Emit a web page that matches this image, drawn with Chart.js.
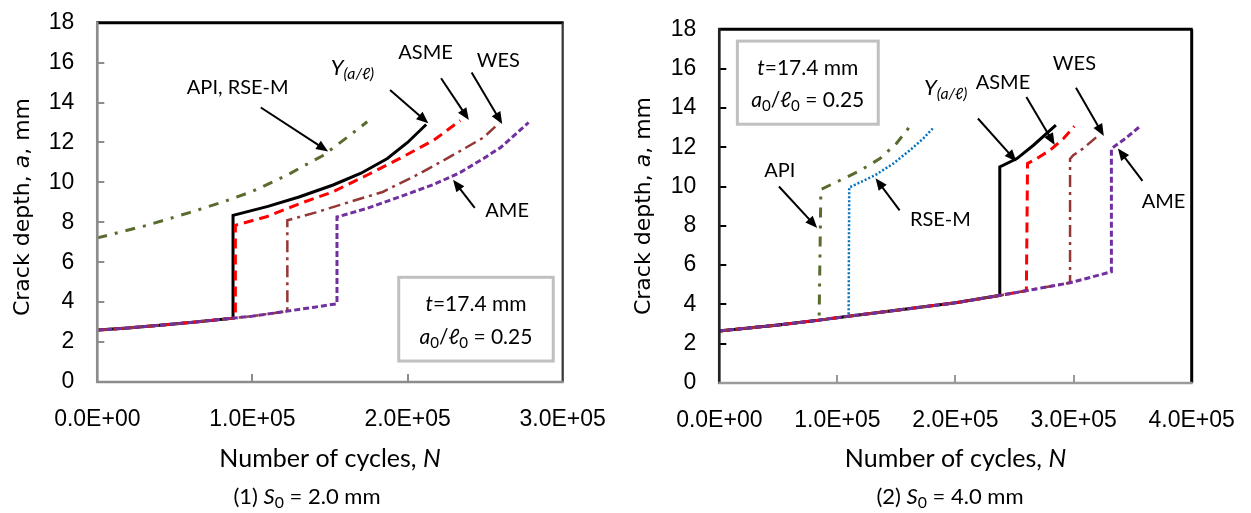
<!DOCTYPE html>
<html><head><meta charset="utf-8">
<script src="https://cdn.jsdelivr.net/npm/chart.js@4.4.1/dist/chart.umd.min.js"></script>
<style>
html,body{margin:0;padding:0;background:#fff;overflow:hidden}
#wrap{position:relative;width:1251px;height:513px;background:#fff}
canvas{position:absolute;top:0}
#c1{left:0}
#c2{left:625px}
</style></head><body>
<div id="wrap"><canvas id="c1" width="625" height="513"></canvas><canvas id="c2" width="626" height="513"></canvas></div>
<script>
// ---------------- DATA: left chart (1) S0 = 2.0 mm ----------------
const xTickValsL = [0, 100000, 200000, 300000];
const xTickLabelsL = ['0.0E+00', '1.0E+05', '2.0E+05', '3.0E+05'];
const yTickVals = [0, 2, 4, 6, 8, 10, 12, 14, 16, 18];
const yTickLabels = ['0', '2', '4', '6', '8', '10', '12', '14', '16', '18'];

const L_Y_N = [0, 20000, 40000, 60000, 87500, 87500, 100000, 110000, 130000, 152000, 170000, 187000, 200000, 212000];
const L_Y_A = [2.6, 2.71, 2.84, 2.98, 3.2, 8.35, 8.6, 8.8, 9.27, 9.87, 10.46, 11.2, 12.0, 12.9];
const L_ASME_N = [0, 20000, 40000, 60000, 89000, 89000, 109000, 131000, 152000, 174000, 195000, 217000, 234000];
const L_ASME_A = [2.6, 2.71, 2.84, 2.98, 3.21, 7.85, 8.28, 8.95, 9.53, 10.37, 11.2, 12.12, 13.1];
const L_WES_N = [0, 20000, 40000, 60000, 87500, 100000, 122500, 122500, 141000, 163000, 184000, 208000, 230000, 249000, 259000];
const L_WES_A = [2.6, 2.71, 2.84, 2.98, 3.2, 3.3, 3.55, 8.1, 8.5, 9.03, 9.52, 10.45, 11.4, 12.25, 12.97];
const L_AME_N = [0, 20000, 40000, 60000, 87500, 100000, 122500, 140000, 154500, 154500, 174000, 195000, 217000, 234000, 249000, 260000, 278000];
const L_AME_A = [2.6, 2.71, 2.84, 2.98, 3.2, 3.3, 3.55, 3.75, 3.92, 8.27, 8.7, 9.28, 9.9, 10.5, 11.2, 11.75, 13.0];
const L_API_N = [0, 32000, 60000, 81000, 100000, 122000, 145500, 161000, 174000];
const L_API_A = [7.22, 7.85, 8.5, 9.02, 9.55, 10.35, 11.35, 12.25, 13.04];

// ---------------- DATA: right chart (2) S0 = 4.0 mm ----------------
const xTickValsR = [0, 100000, 200000, 300000, 400000];
const xTickLabelsR = ['0.0E+00', '1.0E+05', '2.0E+05', '3.0E+05', '4.0E+05'];

const R_API_N = [0, 50000, 84500, 86000, 100000, 119000, 136000, 150000, 161000];
const R_API_A = [2.65, 2.95, 3.2, 9.85, 10.25, 10.8, 11.42, 12.19, 13.03];
const R_RSEM_N = [0, 50000, 84500, 109500, 110000, 131800, 147400, 161500, 172700, 181000];
const R_RSEM_A = [2.65, 2.95, 3.2, 3.4, 9.95, 10.57, 11.17, 11.85, 12.44, 12.97];
const R_Y_N = [0, 50000, 84500, 109500, 150000, 200000, 237000, 237500, 252000, 266000, 285000];
const R_Y_A = [2.65, 2.95, 3.2, 3.4, 3.7, 4.08, 4.45, 11.0, 11.42, 12.1, 13.12];
const R_ASME_N = [0, 50000, 84500, 109500, 150000, 200000, 237000, 260000, 261000, 268800, 280000, 291500, 300600];
const R_ASME_A = [2.65, 2.95, 3.2, 3.4, 3.7, 4.08, 4.45, 4.7, 11.17, 11.42, 11.85, 12.44, 13.07];
const R_WES_N = [0, 50000, 84500, 109500, 150000, 200000, 237000, 260000, 297000, 297000, 299700, 308000, 321000];
const R_WES_A = [2.65, 2.95, 3.2, 3.4, 3.7, 4.08, 4.45, 4.7, 5.1, 11.4, 11.59, 11.93, 12.6];
const R_AME_N = [0, 50000, 84500, 109500, 150000, 200000, 237000, 260000, 297000, 332000, 332000, 344000, 355600];
const R_AME_A = [2.65, 2.95, 3.2, 3.4, 3.7, 4.08, 4.45, 4.7, 5.1, 5.66, 11.93, 12.45, 13.03];

// ---------------- annotation labels / arrows (data coordinates) ----------------
const leftLabels = [
  {runs: [['API, RSE-M']], N: 90500, a: 14.41},
  {runs: [['Y', 'i'], ['(a/ℓ)', 'si']], N: 164500, a: 15.38, size: 22},
  {runs: [['ASME']], N: 211600, a: 16.17},
  {runs: [['WES']], N: 258500, a: 15.8},
  {runs: [['AME']], N: 264200, a: 8.25}
];
const leftArrows = [
  [105400, 13.75, 148800, 11.55],
  [188700, 14.63, 213400, 12.96],
  [221600, 15.22, 239500, 13.13],
  [241300, 15.5, 261000, 12.93],
  [243300, 8.72, 229300, 10.13]
];
const rightLabels = [
  {runs: [['API']], N: 51300, a: 10.49},
  {runs: [['RSE-M']], N: 187200, a: 8.0},
  {runs: [['Y', 'i'], ['(a/ℓ)', 'si']], N: 191600, a: 14.64, size: 22},
  {runs: [['ASME']], N: 240200, a: 14.98},
  {runs: [['WES']], N: 300700, a: 15.91},
  {runs: [['AME']], N: 376100, a: 8.93}
];
const rightArrows = [
  [50500, 10.0, 82900, 7.89],
  [152700, 8.78, 132300, 10.42],
  [219000, 13.46, 251600, 11.27],
  [260000, 14.56, 284000, 12.11],
  [302000, 15.03, 325600, 12.57],
  [358300, 10.29, 337500, 11.94]
];
const insetLines = [
  [['t', 'i'], ['=17.4 mm']],
  [['a', 'i'], ['0', 's'], ['/'], ['ℓ', 'i'], ['0', 's'], [' = 0.25']]
];

// ---------------- helpers ----------------
const FONT = 'Lato, "Open Sans", sans-serif';
const TICKFONT = '"Liberation Sans", Arial, sans-serif';
function pts(N, A) { return N.map((n, i) => ({x: n, y: A[i]})); }

function drawRich(ctx, runs, x, y, size, family, color) {
  ctx.save();
  ctx.fillStyle = color || '#000';
  ctx.textBaseline = 'alphabetic';
  ctx.textAlign = 'left';
  const parts = runs.map(r => {
    const t = r[0], st = r[1] || '';
    const sub = st.includes('s'), it = st.includes('i');
    const sz = sub ? size * 0.72 : size;
    const font = (it ? 'italic ' : '') + sz + 'px ' + family;
    ctx.font = font;
    return {t, font, w: ctx.measureText(t).width, dy: sub ? size * 0.18 : 0};
  });
  const total = parts.reduce((s, p) => s + p.w, 0);
  let cx = x - total / 2;
  for (const p of parts) { ctx.font = p.font; ctx.fillText(p.t, cx, y + p.dy); cx += p.w; }
  ctx.restore();
}

function arrow(ctx, x1, y1, x2, y2) {
  const ang = Math.atan2(y2 - y1, x2 - x1);
  const L = 12, W = 5;
  ctx.save();
  ctx.strokeStyle = '#000'; ctx.fillStyle = '#000'; ctx.lineWidth = 2;
  ctx.beginPath(); ctx.moveTo(x1, y1);
  ctx.lineTo(x2 - Math.cos(ang) * L * 0.8, y2 - Math.sin(ang) * L * 0.8); ctx.stroke();
  ctx.beginPath();
  ctx.moveTo(x2, y2);
  ctx.lineTo(x2 - Math.cos(ang) * L + Math.sin(ang) * W, y2 - Math.sin(ang) * L - Math.cos(ang) * W);
  ctx.lineTo(x2 - Math.cos(ang) * L - Math.sin(ang) * W, y2 - Math.sin(ang) * L + Math.cos(ang) * W);
  ctx.closePath(); ctx.fill();
  ctx.restore();
}

function decoPlugin(d) {
  return {
    id: 'deco',
    afterDatasetsDraw(chart) {
      const ctx = chart.ctx, ca = chart.chartArea, xs = chart.scales.x, ys = chart.scales.y;
      ctx.save();
      // inward tick marks
      ctx.lineWidth = 2;
      ctx.strokeStyle = d.yTickColor;
      for (const v of yTickVals) {
        if (v === 0 || v === 18) continue;
        const py = Math.round(ys.getPixelForValue(v));
        ctx.beginPath(); ctx.moveTo(ca.left, py); ctx.lineTo(ca.left + 7, py); ctx.stroke();
      }
      ctx.strokeStyle = d.xTickColor;
      for (const v of d.xTicks) {
        if (v === 0 || v === xs.max) continue;
        const px = Math.round(xs.getPixelForValue(v));
        ctx.beginPath(); ctx.moveTo(px, ca.bottom); ctx.lineTo(px, ca.bottom - 8); ctx.stroke();
      }
      // borders
      const line = (c, w, x1, y1, x2, y2) => { ctx.strokeStyle = c; ctx.lineWidth = w; ctx.beginPath(); ctx.moveTo(x1, y1); ctx.lineTo(x2, y2); ctx.stroke(); };
      line(d.topColor, 3, ca.left - 1, ca.top, ca.right + 1, ca.top);
      line(d.rightColor, d.rightW, ca.right, ca.top, ca.right, ca.bottom);
      line(d.leftColor, 2.7, ca.left, ca.top - 1, ca.left, ca.bottom + 1);
      line(d.bottomColor, 2.7, ca.left - 1, ca.bottom, ca.right + 1, ca.bottom);
      // inset box
      const bx1 = xs.getPixelForValue(d.box[0]), by1 = ys.getPixelForValue(d.box[1]);
      const bx2 = xs.getPixelForValue(d.box[2]), by2 = ys.getPixelForValue(d.box[3]);
      ctx.fillStyle = '#fff'; ctx.fillRect(bx1, by1, bx2 - bx1, by2 - by1);
      ctx.strokeStyle = '#c0c0c0'; ctx.lineWidth = 3; ctx.strokeRect(bx1, by1, bx2 - bx1, by2 - by1);
      const bcx = (bx1 + bx2) / 2;
      drawRich(ctx, insetLines[0], bcx, ys.getPixelForValue(d.boxText[0]), 21, FONT);
      drawRich(ctx, insetLines[1], bcx, ys.getPixelForValue(d.boxText[1]), 21, FONT);
      // labels and arrows
      for (const l of d.labels) drawRich(ctx, l.runs, xs.getPixelForValue(l.N), ys.getPixelForValue(l.a), l.size || 20, FONT);
      for (const a of d.arrows) arrow(ctx, xs.getPixelForValue(a[0]), ys.getPixelForValue(a[1]), xs.getPixelForValue(a[2]), ys.getPixelForValue(a[3]));
      // axis titles & caption
      ctx.save();
      ctx.translate(d.yTitle[0], d.yTitle[1]); ctx.rotate(-Math.PI / 2);
      drawRich(ctx, [['Crack depth, '], ['a', 'i'], [', mm']], 0, 8, 22, '"DejaVu Sans", sans-serif');
      ctx.restore();
      const mid = (ca.left + ca.right) / 2;
      drawRich(ctx, [['Number of cycles, '], ['N', 'i']], mid, d.xTitleY, 25, FONT);
      drawRich(ctx, [[d.capPre], ['S', 'i'], ['0', 's'], [d.capPost]], d.capX, d.capY, 22, FONT);
      ctx.restore();
    }
  };
}

function makeChart(id, datasets, xMax, xTicks, xLabels, pad, yW, xH, d) {
  d.xTicks = xTicks;
  return new Chart(document.getElementById(id), {
    type: 'line',
    data: {datasets},
    options: {
      responsive: false, animation: false, devicePixelRatio: 1,
      layout: {padding: pad},
      plugins: {legend: {display: false}, tooltip: {enabled: false}},
      elements: {point: {radius: 0}, line: {tension: 0, fill: false, borderCapStyle: 'butt'}},
      scales: {
        x: {
          type: 'linear', min: 0, max: xMax,
          afterBuildTicks: s => { s.ticks = xTicks.map(v => ({value: v})); },
          ticks: {callback: (v, i) => xLabels[i], font: {family: TICKFONT, size: 23}, color: '#000', padding: 24, maxRotation: 0, autoSkip: false},
          grid: {display: false, drawTicks: false}, border: {display: false},
          afterFit: s => { s.height = xH; s.paddingLeft = 0; s.paddingRight = 0; }
        },
        y: {
          type: 'linear', min: 0, max: 18,
          afterBuildTicks: s => { s.ticks = yTickVals.map(v => ({value: v})); },
          ticks: {callback: (v, i) => yTickLabels[i], font: {family: TICKFONT, size: 23}, color: '#000', padding: 23, autoSkip: false},
          grid: {display: false, drawTicks: false}, border: {display: false},
          afterFit: s => { s.width = yW; s.paddingTop = 0; s.paddingBottom = 0; }
        }
      }
    },
    plugins: [decoPlugin(d)]
  });
}

const C_Y = '#000000', C_ASME = '#ff0000', C_WES = '#953735', C_AME = '#7030a0', C_API = '#5a6b2e', C_RSEM = '#0070c0';

makeChart('c1', [
  {data: pts(L_AME_N, L_AME_A), borderColor: C_AME, borderWidth: 3, borderDash: [6, 3]},
  {data: pts(L_WES_N, L_WES_A), borderColor: C_WES, borderWidth: 2.5, borderDash: [12, 5, 3, 5]},
  {data: pts(L_ASME_N, L_ASME_A), borderColor: C_ASME, borderWidth: 3, borderDash: [10, 6]},
  {data: pts(L_Y_N, L_Y_A), borderColor: C_Y, borderWidth: 3},
  {data: pts(L_API_N, L_API_A), borderColor: C_API, borderWidth: 3, borderDash: [10, 8, 3, 8]}
], 300000, xTickValsL, xTickLabelsL, {left: 0, right: 62.3, top: 22.7, bottom: 0}, 97.3, 131, {
  yTickColor: '#8c8c8c', xTickColor: '#8c8c8c',
  topColor: '#000', rightColor: '#3a3a3a', rightW: 2.3, leftColor: '#8c8c8c', bottomColor: '#8c8c8c',
  box: [194300, 5.245, 293900, 1.05], boxText: [3.55, 1.9],
  labels: leftLabels, arrows: leftArrows,
  yTitle: [21, 207], xTitleY: 467, capPre: '(1) ', capPost: ' = 2.0 mm', capX: 307, capY: 504
});

makeChart('c2', [
  {data: pts(R_AME_N, R_AME_A), borderColor: C_AME, borderWidth: 3, borderDash: [6, 3]},
  {data: pts(R_WES_N, R_WES_A), borderColor: C_WES, borderWidth: 2.5, borderDash: [12, 5, 3, 5]},
  {data: pts(R_ASME_N, R_ASME_A), borderColor: C_ASME, borderWidth: 3, borderDash: [10, 6]},
  {data: pts(R_Y_N, R_Y_A), borderColor: C_Y, borderWidth: 3},
  {data: pts(R_RSEM_N, R_RSEM_A), borderColor: C_RSEM, borderWidth: 2.5, borderDash: [2, 2]},
  {data: pts(R_API_N, R_API_A), borderColor: C_API, borderWidth: 3, borderDash: [10, 8, 3, 8]}
], 400000, xTickValsR, xTickLabelsR, {left: 0, right: 59.3, top: 29.3, bottom: 0}, 94.3, 130, {
  yTickColor: '#000', xTickColor: '#999',
  topColor: '#000', rightColor: '#000', rightW: 3, leftColor: '#222', bottomColor: '#9a9a9a',
  box: [15300, 17.4, 134600, 13.17], boxText: [15.65, 14.05],
  labels: rightLabels, arrows: rightArrows,
  yTitle: [17, 206], xTitleY: 467, capPre: '(2) ', capPost: ' = 4.0 mm', capX: 325, capY: 504
});
</script>
</body></html>
